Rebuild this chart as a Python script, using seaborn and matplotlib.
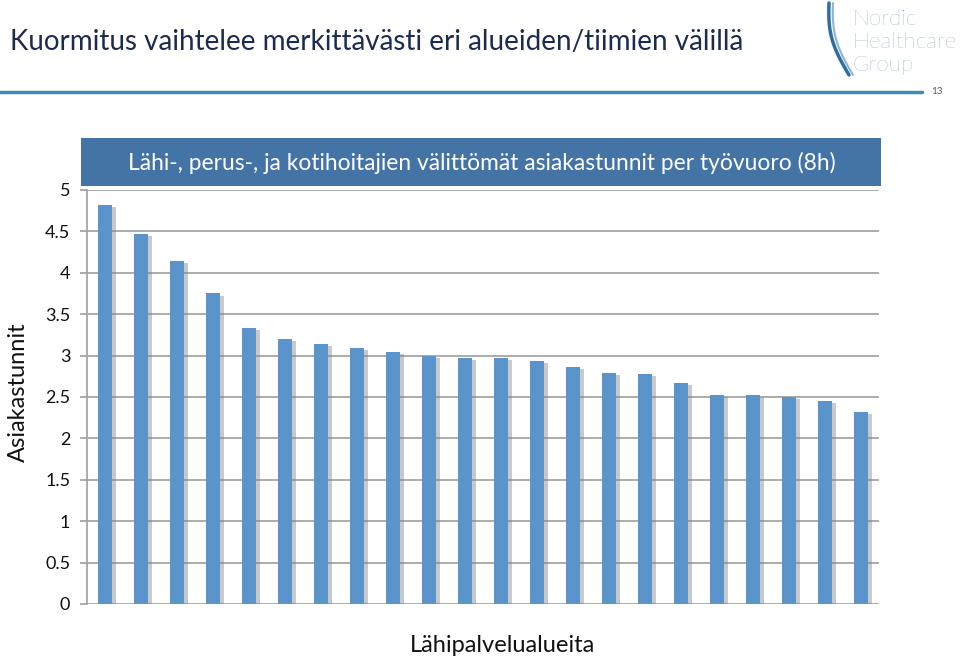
import matplotlib
matplotlib.use("Agg")
import matplotlib.pyplot as plt
import matplotlib.patheffects as pe
from matplotlib.patches import Rectangle
import seaborn as sns
import pandas as pd
import numpy as np

# ---- data ----
alueet = [f"A{i+1}" for i in range(22)]
asiakastunnit = [4.82, 4.47, 4.14, 3.75, 3.33, 3.20, 3.14, 3.09, 3.04, 3.00, 2.97,
                 2.97, 2.93, 2.86, 2.79, 2.78, 2.67, 2.53, 2.52, 2.50, 2.45, 2.32]
y_ticks = [0, 0.5, 1, 1.5, 2, 2.5, 3, 3.5, 4, 4.5, 5]
y_tick_labels = ["0", "0.5", "1", "1.5", "2", "2.5", "3", "3.5", "4", "4.5", "5"]

page_title = "Kuormitus vaihtelee merkittävästi eri alueiden/tiimien välillä"
chart_title = "Lähi-, perus-, ja kotihoitajien välittömät asiakastunnit per työvuoro (8h)"
x_label = "Lähipalvelualueita"
y_label = "Asiakastunnit"

df = pd.DataFrame({"alue": alueet, "tunnit": asiakastunnit})

sns.set_style("white")
plt.rcParams["font.family"] = ["Lato", "DejaVu Sans"]

W, H = 960, 659
fig = plt.figure(figsize=(9.6, 6.59), dpi=100)

def fx(px):
    return np.asarray(px) / W

def fy(py):
    return 1 - np.asarray(py) / H

ax = fig.add_axes([fx(87), fy(604), fx(879) - fx(87), fy(190) - fy(604)])

bar_color = "#5B94CB"
sns.barplot(data=df, x="alue", y="tunnit", color=bar_color, width=0.40,
            saturation=1, ax=ax, edgecolor="none", zorder=3)
for p in ax.patches:
    p.set_path_effects([pe.SimplePatchShadow(offset=(2.5, -1.5), shadow_rgbFace="#888888", alpha=0.45),
                        pe.Normal()])

ax.set_ylim(0, 5)
ax.set_xlim(-0.5, len(alueet) - 0.5)
ax.set_yticks(y_ticks)
ax.set_yticklabels(y_tick_labels, fontsize=13, color="#111111")
ax.set_xticks([])
ax.set_xlabel("")
ax.set_ylabel("")
ax.yaxis.grid(True, color="#A6A6A6", linewidth=1.3, zorder=0)
ax.set_axisbelow(True)
for s in ["top", "right", "bottom"]:
    ax.spines[s].set_visible(False)
ax.spines["left"].set_color("#A6A6A6")
ax.spines["left"].set_linewidth(1.3)
ax.tick_params(axis="y", length=5, width=1.3, color="#A6A6A6", pad=7, left=True)

# axis labels
fig.text(fx(503), fy(645), x_label, ha="center", va="center", fontsize=17, color="#111111")
fig.text(fx(18), fy(392), y_label, ha="center", va="center", rotation=90, fontsize=17, color="#111111")

# chart title band
fig.patches.append(Rectangle((fx(81), fy(186)), fx(881) - fx(81), fy(138) - fy(186),
                             transform=fig.transFigure, facecolor="#4473A5", edgecolor="none"))
fig.text(fx(482), fy(163), chart_title, ha="center", va="center", fontsize=16.4, color="white")

# page title
fig.text(fx(10), fy(42), page_title, ha="left", va="center", fontsize=20, color="#1C2B4E")

# top rule
fig.add_artist(plt.Line2D([0, fx(922)], [fy(92), fy(92)], transform=fig.transFigure,
                          color="#3F8CB0", linewidth=2.5))
fig.text(fx(937), fy(92), "13", ha="center", va="center", fontsize=7, color="#555555")

# logo text
for i, word in enumerate(["Nordic", "Healthcare", "Group"]):
    fig.text(fx(852), fy(19 + i * 23), word, ha="left", va="center", fontsize=16.2,
             color="#5C87AD", fontweight="light")
# logo swoosh
t = np.linspace(0, 1, 60)
xs = 829 + 20 * t - 7 * np.sin(np.pi * t)
ys = 3 + 72 * t
fig.add_artist(plt.Line2D(fx(xs), fy(ys), transform=fig.transFigure, color="#2F6EA5", linewidth=2.5))
fig.add_artist(plt.Line2D(fx(xs + 4), fy(ys), transform=fig.transFigure, color="#8CB6D8", linewidth=1.5))

fig.savefig("out.png", dpi=100)
